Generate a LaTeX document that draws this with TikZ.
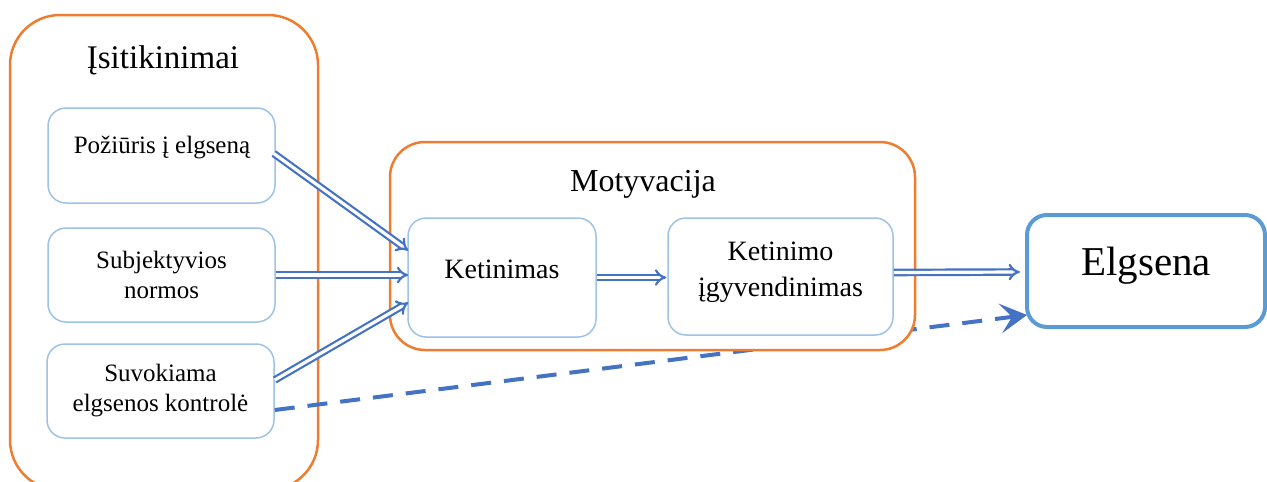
\documentclass[tikz,border=0pt]{standalone}
\usepackage{fontspec}
\setmainfont{Liberation Serif}
\usetikzlibrary{arrows.meta,calc}

\definecolor{grouporange}{HTML}{ED7D31}
\definecolor{boxblue}{HTML}{9DC3E6}
\definecolor{strongblue}{HTML}{5B9BD5}
\definecolor{arrowblue}{HTML}{4472C4}

\tikzset{
  groupbox/.style={draw=grouporange, line width=2.5pt, fill=white, rounded corners=#1},
  itembox/.style={draw=boxblue, line width=1.5pt, fill=white, rounded corners=18pt},
  resultbox/.style={draw=strongblue, line width=4pt, fill=white, rounded corners=20pt},
  hollowarrow/.style={draw=arrowblue, line width=2.2pt, double=white, double distance=3.2pt,
    -{Implies[scale=1.3]}},
  dasharrow/.style={draw=arrowblue, line width=4pt, dash pattern=on 20pt off 13pt,
    -{Stealth[length=27pt,width=30pt,inset=12pt,line width=0pt]}},
  smalltext/.style={font=\rmfamily\fontsize{25}{30}\selectfont, align=center},
  midtext/.style={font=\rmfamily\fontsize{28}{36}\selectfont, align=center},
  titletext/.style={font=\rmfamily\fontsize{#1}{40}\selectfont},
}

\begin{document}
\begin{tikzpicture}[x=1pt, y=-1pt]
  \useasboundingbox (0,0) rectangle (1267,482);

  % Beliefs group with its three items
  \node[groupbox=50pt, minimum width=308pt, minimum height=475pt] (isit) at (164,252.5) {};
  \node[titletext=33] (isitT) at (163,60) {Įsitikinimai};

  \node[itembox, minimum width=227pt, minimum height=95pt] (poz) at (161.5,155.5) {};
  \node[smalltext] (pozT) at (162,147) {Požiūris į elgseną};
  \node[itembox, minimum width=227pt, minimum height=94pt, smalltext] (subj) at (161.5,275)
    {Subjektyvios\\normos};
  \node[itembox, minimum width=227pt, minimum height=94pt, smalltext] (suv) at (160.5,391)
    {Suvokiama\\elgsenos kontrolė};

  % Behaviour
  \node[resultbox, minimum width=238pt, minimum height=112pt, text height=28pt, text depth=20pt,
        font=\rmfamily\fontsize{41}{48}\selectfont] (elg) at (1146,271) {Elgsena};

  % Perceived control acts on behaviour directly
  \draw[dasharrow] ($(suv.east)+(0,19)$) -- ($(elg.south west)+(2,-14)$);

  % Motivation group
  \node[groupbox=35pt, minimum width=525pt, minimum height=208pt] (motiv) at (652.5,246) {};
  \node[titletext=32] (motT) at (643,184) {Motyvacija};
  \node[itembox, minimum width=188pt, minimum height=119pt, midtext,
        text height=19pt, text depth=17pt] (ket) at (502,277.5) {Ketinimas};
  \node[itembox, minimum width=225pt, minimum height=117pt, midtext,
        inner ysep=0pt, text depth=14pt] (keti) at (780.5,276.5)
    {Ketinimo\\įgyvendinimas};

  % Flows
  \draw[hollowarrow] ($(poz.east)+(-2,-2)$) -- ($(ket.west)+(1,-27)$);
  \draw[hollowarrow] (subj.east) -- ($(subj.east -| ket.west)+(1,0)$);
  \draw[hollowarrow] ($(suv.east)+(0,-11)$) -- ($(ket.west)+(1,25)$);
  \draw[hollowarrow] (ket.east) -- ($(ket.east -| keti.west)+(-1,0)$);
  \draw[hollowarrow] ($(keti.east)+(0,-4)$) -- ($(elg.west)+(-5,1)$);
\end{tikzpicture}
\end{document}
